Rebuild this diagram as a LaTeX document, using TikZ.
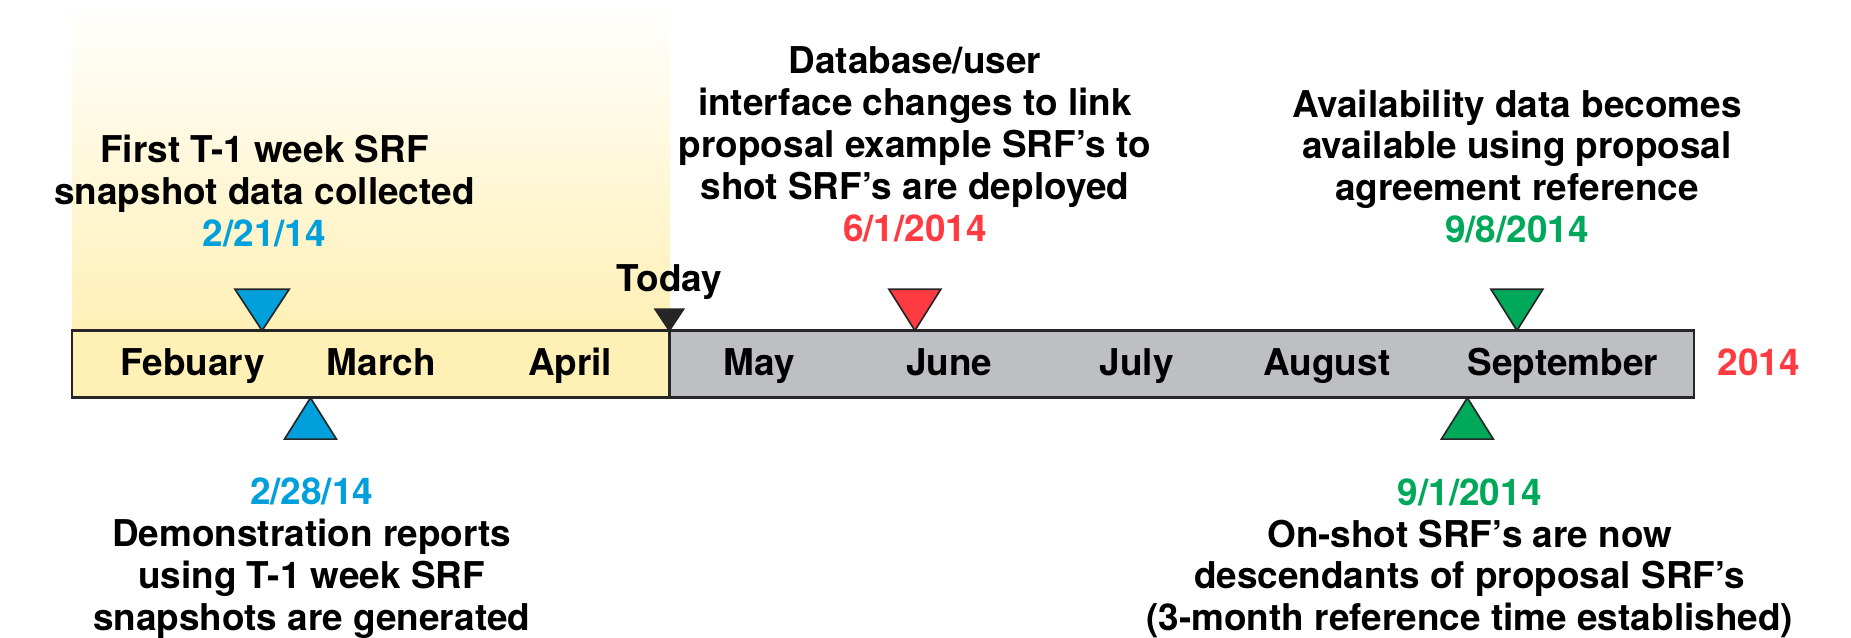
\documentclass[tikz,border=0pt]{standalone}
\usepackage{fontspec}
\setmainfont{TeX Gyre Heros}
\definecolor{datblue}{HTML}{00A0DC}
\definecolor{datred}{HTML}{FF3A40}
\definecolor{datgreen}{HTML}{00A859}
\definecolor{pastyellow}{HTML}{FFF0B6}
\definecolor{futuregray}{HTML}{BEBFC3}
\begin{document}
\begin{tikzpicture}[x=0.02cm,y=-0.02cm,
    every node/.style={font=\bfseries\fontsize{17.8}{20.2}\selectfont, inner sep=0pt},
    tri/.style={draw=black!85, line width=0.8pt}]
    \useasboundingbox (0,0) rectangle (1568,540);
    \shade[top color=white, bottom color=pastyellow] (61,0) rectangle (567,280);
    \fill[pastyellow] (61,280) rectangle (567,337);
    \fill[futuregray] (567,280) rectangle (1435,337);
    \draw[black!85, line width=1.3pt] (61,280) rectangle (1435,337);
    \draw[black!85, line width=1.3pt] (567,280) -- (567,337);
    \node[anchor=base] (feb) at (163,318) {Febuary};
    \node[anchor=base] (mar) at (323,318) {March};
    \node[anchor=base] (apr) at (483,318) {April};
    \node[anchor=base] (may) at (643,318) {May};
    \node[anchor=base] (jun) at (804,318) {June};
    \node[anchor=base] (jul) at (963,318) {July};
    \node[anchor=base] (aug) at (1124,318) {August};
    \node[anchor=base] (sep) at (1324,318) {September};
    \node[anchor=base, text=datred] (year) at (1490,318) {2014};
    \node[anchor=base] (today) at (567,247) {Today};
    \coordinate (snap) at (222,280);
    \coordinate (now) at (567,280);
    \coordinate (link) at (775,280);
    \coordinate (avail) at (1285,280);
    \coordinate (demo) at (263,337);
    \coordinate (onshot) at (1243,337);
    \filldraw[tri, fill=datblue] (snap) -- ++(-23,-35) -- ++(46,0) -- cycle;
    \filldraw[tri, fill=black!85] (now) -- ++(-12,-18) -- ++(24,0) -- cycle;
    \filldraw[tri, fill=datred] (link) -- ++(-22,-35) -- ++(44,0) -- cycle;
    \filldraw[tri, fill=datgreen] (avail) -- ++(-22,-35) -- ++(44,0) -- cycle;
    \filldraw[tri, fill=datblue] (demo) -- ++(-22,35) -- ++(44,0) -- cycle;
    \filldraw[tri, fill=datgreen] (onshot) -- ++(-22,35) -- ++(44,0) -- cycle;
    \node[align=center] (snaptext) at (224,162) {First T-1 week SRF\\snapshot data collected\\\textcolor{datblue}{2/21/14}};
    \node[align=center] (linktext) at (775,122) {Database/user\\interface changes to link\\proposal example SRF's to\\shot SRF's are deployed\\\textcolor{datred}{6/1/2014}};
    \node[align=center] (availtext) at (1285,141) {Availability data becomes\\available using proposal\\agreement reference\\\textcolor{datgreen}{9/8/2014}};
    \node[align=center] (demotext) at (264,473) {\textcolor{datblue}{2/28/14}\\Demonstration reports\\using T-1 week SRF\\snapshots are generated};
    \node[align=center] (onshottext) at (1245,473) {\textcolor{datgreen}{9/1/2014}\\On-shot SRF's are now\\descendants of proposal SRF's\\(3-month reference time established)};
\end{tikzpicture}
\end{document}
